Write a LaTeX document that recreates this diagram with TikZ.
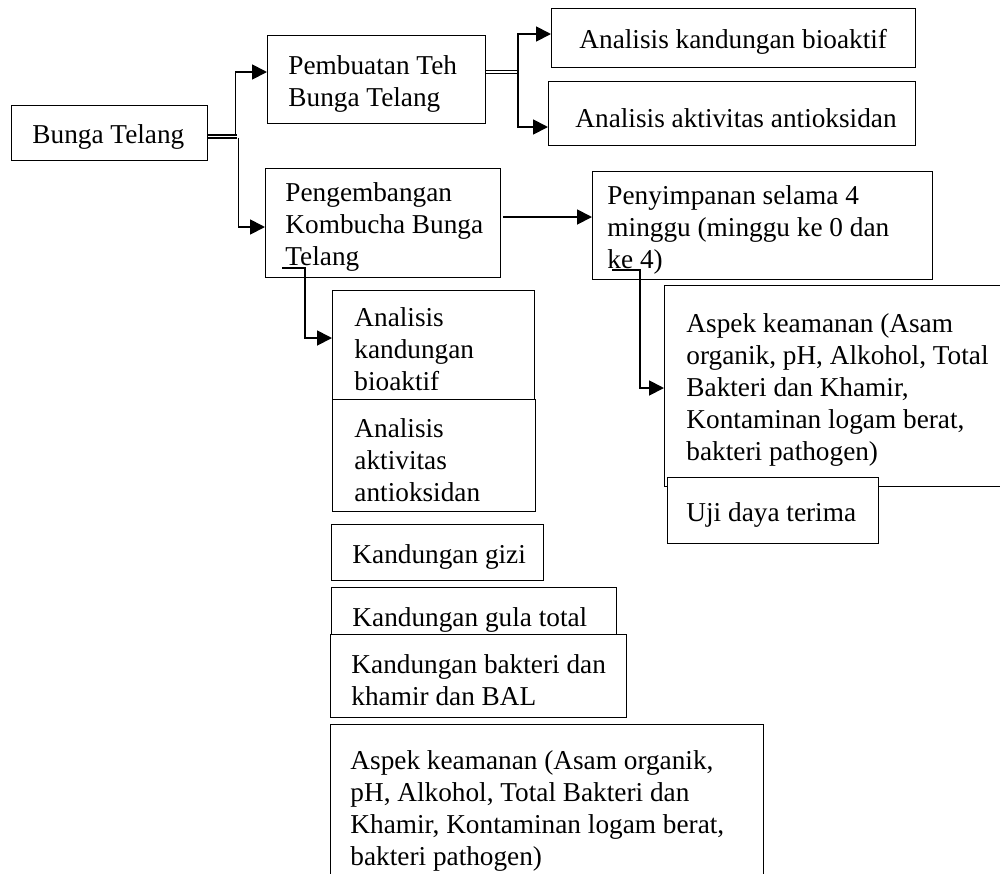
\documentclass[tikz,border=0pt]{standalone}
\usepackage{fontspec}
\setmainfont{Liberation Serif}
\usetikzlibrary{arrows.meta}
\begin{document}
\begin{tikzpicture}[x=0.44pt,y=-0.44pt,
  box/.style 2 args={draw, line width=0.55pt, fill=white, inner sep=0pt, anchor=north west,
    minimum width=#1*0.44pt, minimum height=#2*0.44pt},
  tx/.style={anchor=west, align=left, inner sep=0pt, xshift=#1*0.44pt, yshift=-1.8pt,
    font=\fontsize{12}{14.1}\selectfont},
  arr/.style={line width=0.8pt, -{Triangle[length=6.5pt,width=6.5pt]}},
  dbl/.style={double, line width=0.5pt, double distance=0.8pt}]
\useasboundingbox (0,0) rectangle (1000,873);
\clip (0,0) rectangle (1000,873);
\fill[white] (0,0) rectangle (1000,873);

% first level
\node[box={196}{55}] (bunga) at (11,105) {};
\node[tx=21] (bunga-t) at (bunga.west) {Bunga Telang};

\node[box={218}{88}] (pemb) at (267,35) {};
\node[tx=21] (pemb-t) at (pemb.west) {Pembuatan Teh\\Bunga Telang};

\node[box={235}{109}] (peng) at (265,168) {};
\node[tx=20] (peng-t) at (peng.west) {Pengembangan\\Kombucha Bunga\\Telang};

% tea analyses
\node[box={364}{59}] (akb) at (551,8) {};
\node[tx=28] (akb-t) at (akb.west) {Analisis kandungan bioaktif};

\node[box={367}{64}] (aaa) at (548,81) {};
\node[tx=27] (aaa-t) at (aaa.west) {Analisis aktivitas antioksidan};

% kombucha storage branch
\node[box={340}{108}] (peny) at (592,171) {};
\node[tx=15] (peny-t) at (peny.west) {Penyimpanan selama 4\\minggu (minggu ke 0 dan\\ke 4)};

\node[box={356}{201}] (aspR) at (664,285) {};
\node[tx=22] (aspR-t) at (aspR.west) {Aspek keamanan (Asam\\organik, pH, Alkohol, Total\\Bakteri dan Khamir,\\Kontaminan logam berat,\\bakteri pathogen)};

\node[box={211}{66}] (uji) at (667,477) {};
\node[tx=19] (uji-t) at (uji.west) {Uji daya terima};

% kombucha analyses column
\node[box={202}{109}] (lakb) at (332,290) {};
\node[tx=22] (lakb-t) at (lakb.west) {Analisis\\kandungan\\bioaktif};

\node[box={203}{112}] (laaa) at (332,399) {};
\node[tx=22] (laaa-t) at (laaa.west) {Analisis\\aktivitas\\antioksidan};

\node[box={212}{56}] (gizi) at (331,524) {};
\node[tx=21] (gizi-t) at (gizi.west) {Kandungan gizi};

\node[box={285}{56}] (gula) at (331,587) {};
\node[tx=21] (gula-t) at (gula.west) {Kandungan gula total};

\node[box={296}{83}] (bakt) at (330,634) {};
\node[tx=21] (bakt-t) at (bakt.west) {Kandungan bakteri dan\\khamir dan BAL};

\node[box={433}{170}] (aspL) at (330,724) {};
\node[tx=20, yshift=1.2pt] (aspL-t) at (aspL.west) {Aspek keamanan (Asam organik,\\pH, Alkohol, Total Bakteri dan\\Khamir, Kontaminan logam berat,\\bakteri pathogen)};

% connectors
\coordinate (j1) at (237,136.5);
\draw[dbl] (bunga.east |- j1) -- (j1);
\draw[arr] (235.5,135.5) |- (pemb.west |- 0,72);
\draw[arr] (238.5,137.5) |- (peng.west |- 0,227);

\coordinate (j2) at (518,72);
\draw[dbl] (pemb.east |- j2) -- (j2);
\draw[arr] (j2) |- (akb.west |- 0,34);
\draw[arr] (j2) |- (aaa.west |- 0,127);

\coordinate (p1) at (503,217);
\draw[arr] (p1) -- (peny.west |- p1);

\coordinate (c1) at (282,268);
\coordinate (c1e) at (305,268);
\draw[arr] (c1) -- (c1e) |- (lakb.west |- 0,338);

\coordinate (c2) at (612,270);
\coordinate (c2e) at (640,270);
\draw[arr] (c2) -- (c2e) |- (aspR.west |- 0,388);
\end{tikzpicture}
\end{document}
